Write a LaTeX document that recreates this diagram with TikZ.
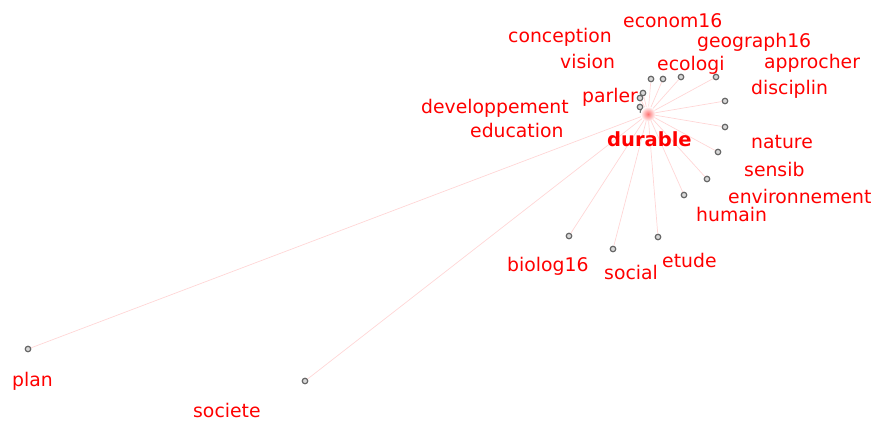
\documentclass[tikz,border=0pt]{standalone}
\usepackage{fontspec}
\newfontfamily\lblfont{DejaVu Sans}
\usepackage{tikz}
\usetikzlibrary{positioning}

\begin{document}
\begin{tikzpicture}[
  x=1pt,y=-1pt,
  lbl/.style={text=red,font=\lblfont\fontsize{18.8}{20}\selectfont,inner sep=0pt,anchor=base west},
  hublbl/.style={lbl,font=\lblfont\bfseries\fontsize{19.5}{20}\selectfont},
  dot/.style={circle,draw=black!60,fill=black!15,line width=1.2pt,inner sep=0pt,minimum size=5.5pt},
  hub/.style={circle,inner color=red!55,outer color=white,inner sep=0pt,minimum size=15pt},
  edge/.style={draw=red!16,line width=0.7pt}]
\useasboundingbox (0,0) rectangle (877,421);

% centre word
\node[hub] (durable) at (648,114) {};

% satellite dots
\node[dot] (ecologi) at (651,79) {};
\node[dot] (econom) at (663,79) {};
\node[dot] (geograph) at (681,77) {};
\node[dot] (approcher) at (716,77) {};
\node[dot] (conception) at (643,93) {};
\node[dot] (vision) at (640,98) {};
\node[dot] (parler) at (640,107) {};
\node[dot] (developpement) at (643,112) {};
\node[dot] (disciplin) at (725,101) {};
\node[dot] (nature) at (725,127) {};
\node[dot] (sensib) at (718,152) {};
\node[dot] (environ) at (707,179) {};
\node[dot] (humain) at (684,195) {};
\node[dot] (biolog) at (569,236) {};
\node[dot] (social) at (613,249) {};
\node[dot] (etude) at (658,237) {};
\node[dot] (plan) at (28,349) {};
\node[dot] (societe) at (305,381) {};

\begin{scope}[on background layer/.try]
\foreach \n in {ecologi,econom,geograph,approcher,conception,vision,parler,developpement,
  disciplin,nature,sensib,environ,humain,biolog,social,etude,plan,societe}
  \draw[edge] (durable.center) -- (\n);
\end{scope}
\node[hub] at (durable) {};

% labels
\node[hublbl] (t-durable) at (607,146) {durable};
\node[lbl] (t-conception) at (508,42) {conception};
\node[lbl] (t-econom) at (623,27) {econom16};
\node[lbl] (t-geograph) at (697,47) {geograph16};
\node[lbl] (t-vision) at (560,68) {vision};
\node[lbl] (t-ecologi) at (657,70) {ecologi};
\node[lbl] (t-approcher) at (764,68) {approcher};
\node[lbl] (t-disciplin) at (751,94) {disciplin};
\node[lbl] (t-parler) at (582,102) {parler};
\node[lbl] (t-developpement) at (421,113) {developpement};
\node[lbl] (t-education) at (470,137) {education};
\node[lbl] (t-nature) at (751,148) {nature};
\node[lbl] (t-sensib) at (744,176) {sensib};
\node[lbl] (t-environ) at (728,203) {environnement};
\node[lbl] (t-humain) at (696,221) {humain};
\node[lbl] (t-biolog) at (507,271) {biolog16};
\node[lbl] (t-social) at (604,279) {social};
\node[lbl] (t-etude) at (662,267) {etude};
\node[lbl] (t-plan) at (12,386) {plan};
\node[lbl] (t-societe) at (193,417) {societe};
\end{tikzpicture}
\end{document}
